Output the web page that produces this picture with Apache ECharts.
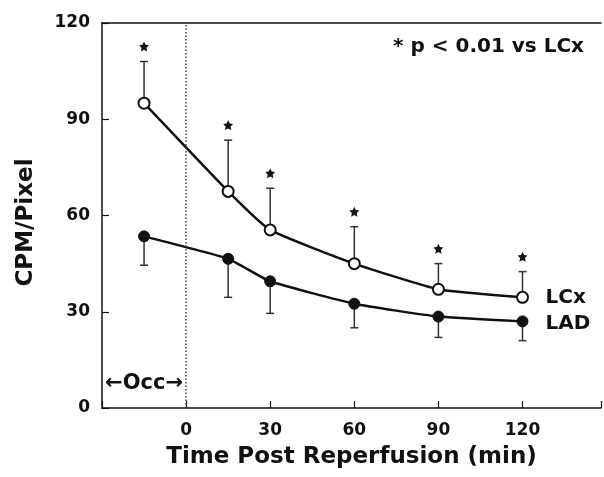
<!DOCTYPE html>
<html>
<head>
<meta charset="utf-8">
<script src="https://cdn.jsdelivr.net/npm/echarts@6/dist/echarts.min.js"></script>
<style>
  html, body { margin: 0; padding: 0; background: #fff; }
  #chart { width: 604px; height: 477px; }
</style>
</head>
<body>
<div id="chart"></div>
<script>
// time points (min, relative to reperfusion)
const times = [-15, 15, 30, 60, 90, 120]
// LCx: mean and upper end of error bar
const lcxMean = [95, 67.5, 55.5, 45, 37, 34.5]
const lcxTop = [108, 83.5, 68.5, 56.5, 45, 42.5]
// LAD: mean and lower end of error bar
const ladMean = [53.5, 46.5, 39.5, 32.5, 28.5, 27]
const ladLow = [44.5, 34.5, 29.5, 25, 22, 21]
const yTicks = [0, 30, 60, 90, 120]
const xTicks = [0, 30, 60, 90, 120]

const font = 'DejaVu Sans'
const ink = '#111'
const star = 'path://M0,-10 L2.9,-4 9.5,-3.1 4.7,1.5 5.9,8.1 0,5 -5.9,8.1 -4.7,1.5 -9.5,-3.1 -2.9,-4 Z'

const pairs = (xs, ys) => xs.map((x, i) => [x, ys[i]])
const errData = (xs, a, b) => xs.map((x, i) => [x, a[i], b[i]])

function renderErr(params, api) {
  const p0 = api.coord([api.value(0), api.value(1)])
  const p1 = api.coord([api.value(0), api.value(2)])
  const half = 4
  const style = { stroke: '#333', lineWidth: 1.5 }
  return {
    type: 'group',
    children: [
      { type: 'line', shape: { x1: p0[0], y1: p0[1], x2: p1[0], y2: p1[1] }, style },
      { type: 'line', shape: { x1: p1[0] - half, y1: p1[1], x2: p1[0] + half, y2: p1[1] }, style }
    ]
  }
}

const chart = echarts.init(document.getElementById('chart'))
chart.setOption({
  animation: false,
  backgroundColor: '#fff',
  grid: { left: 102, top: 23, right: 0, bottom: 69 },
  xAxis: [
    {
      type: 'value',
      min: -30,
      max: 148,
      interval: 30,
      name: 'Time Post Reperfusion (min)',
      nameLocation: 'middle',
      nameGap: 38,
      nameTextStyle: { fontFamily: font, fontWeight: 'bold', fontSize: 23, color: ink },
      axisLine: { onZero: false, lineStyle: { color: ink, width: 1.5 } },
      axisTick: { inside: true, length: 7, lineStyle: { color: ink, width: 1.2 } },
      axisLabel: {
        margin: 14,
        fontFamily: font,
        fontWeight: 'bold',
        fontSize: 17,
        color: ink,
        formatter: v => (xTicks.includes(v) ? String(v) : '')
      },
      splitLine: { show: false }
    },
    {
      type: 'value',
      position: 'top',
      min: -30,
      max: 148,
      axisLine: { onZero: false, lineStyle: { color: ink, width: 1.5 } },
      axisTick: { show: false },
      axisLabel: { show: false },
      splitLine: { show: false }
    }
  ],
  yAxis: {
    type: 'value',
    min: 0,
    max: 120,
    interval: 30,
    name: 'CPM/Pixel',
    nameLocation: 'middle',
    nameGap: 64,
    nameTextStyle: {
      fontFamily: font, fontWeight: 'bold', fontSize: 23, color: ink,
      padding: [0, 14, 0, 0]
    },
    axisLine: { show: true, onZero: false, lineStyle: { color: ink, width: 1.5 } },
    axisTick: { show: true, inside: true, length: 7, lineStyle: { color: ink, width: 1.2 } },
    axisLabel: {
      margin: 12,
      fontFamily: font,
      fontWeight: 'bold',
      fontSize: 17,
      color: ink,
      formatter: v => (yTicks.includes(v) ? String(v) : '')
    },
    splitLine: { show: false }
  },
  graphic: [
    {
      type: 'text',
      right: 20,
      top: 37,
      style: {
        text: '* p < 0.01 vs LCx',
        font: 'bold 20px "DejaVu Sans"',
        fill: ink
      }
    }
  ],
  series: [
    {
      name: 'LCx err',
      type: 'custom',
      renderItem: renderErr,
      data: errData(times, lcxMean, lcxTop),
      z: 1
    },
    {
      name: 'LAD err',
      type: 'custom',
      renderItem: renderErr,
      data: errData(times, ladMean, ladLow),
      z: 1
    },
    {
      name: 'LCx',
      type: 'line',
      data: pairs(times, lcxMean),
      smooth: 0.15,
      symbol: 'circle',
      symbolSize: 11,
      itemStyle: { color: '#fff', borderColor: ink, borderWidth: 2 },
      lineStyle: { color: ink, width: 2.5 },
      endLabel: {
        show: true,
        distance: 23,
        formatter: 'LCx',
        fontFamily: font,
        fontWeight: 'bold',
        fontSize: 20,
        color: ink
      },
      markLine: {
        silent: true,
        symbol: 'none',
        label: { show: false },
        lineStyle: { color: '#444', type: [1.5, 2], width: 1.5 },
        data: [{ xAxis: 0 }]
      },
      z: 3
    },
    {
      name: 'LAD',
      type: 'line',
      data: pairs(times, ladMean),
      smooth: 0.15,
      symbol: 'circle',
      symbolSize: 11,
      itemStyle: { color: ink, borderColor: ink, borderWidth: 1 },
      lineStyle: { color: ink, width: 2.5 },
      endLabel: {
        show: true,
        distance: 23,
        offset: [0, 2],
        formatter: 'LAD',
        fontFamily: font,
        fontWeight: 'bold',
        fontSize: 20,
        color: ink
      },
      z: 3
    },
    {
      name: 'sig',
      type: 'scatter',
      data: pairs(times, lcxTop),
      symbol: star,
      symbolSize: 10,
      symbolOffset: [0, -15],
      itemStyle: { color: ink, opacity: 1 },
      z: 4
    },
    {
      name: 'Occ',
      type: 'scatter',
      data: [[-15, 7.5]],
      symbolSize: 0,
      itemStyle: { opacity: 1 },
      label: {
        show: true,
        position: 'inside',
        formatter: '←Occ→',
        fontFamily: font,
        fontWeight: 'bold',
        fontSize: 21,
        color: ink
      },
      z: 4
    }
  ]
})
</script>
</body>
</html>
